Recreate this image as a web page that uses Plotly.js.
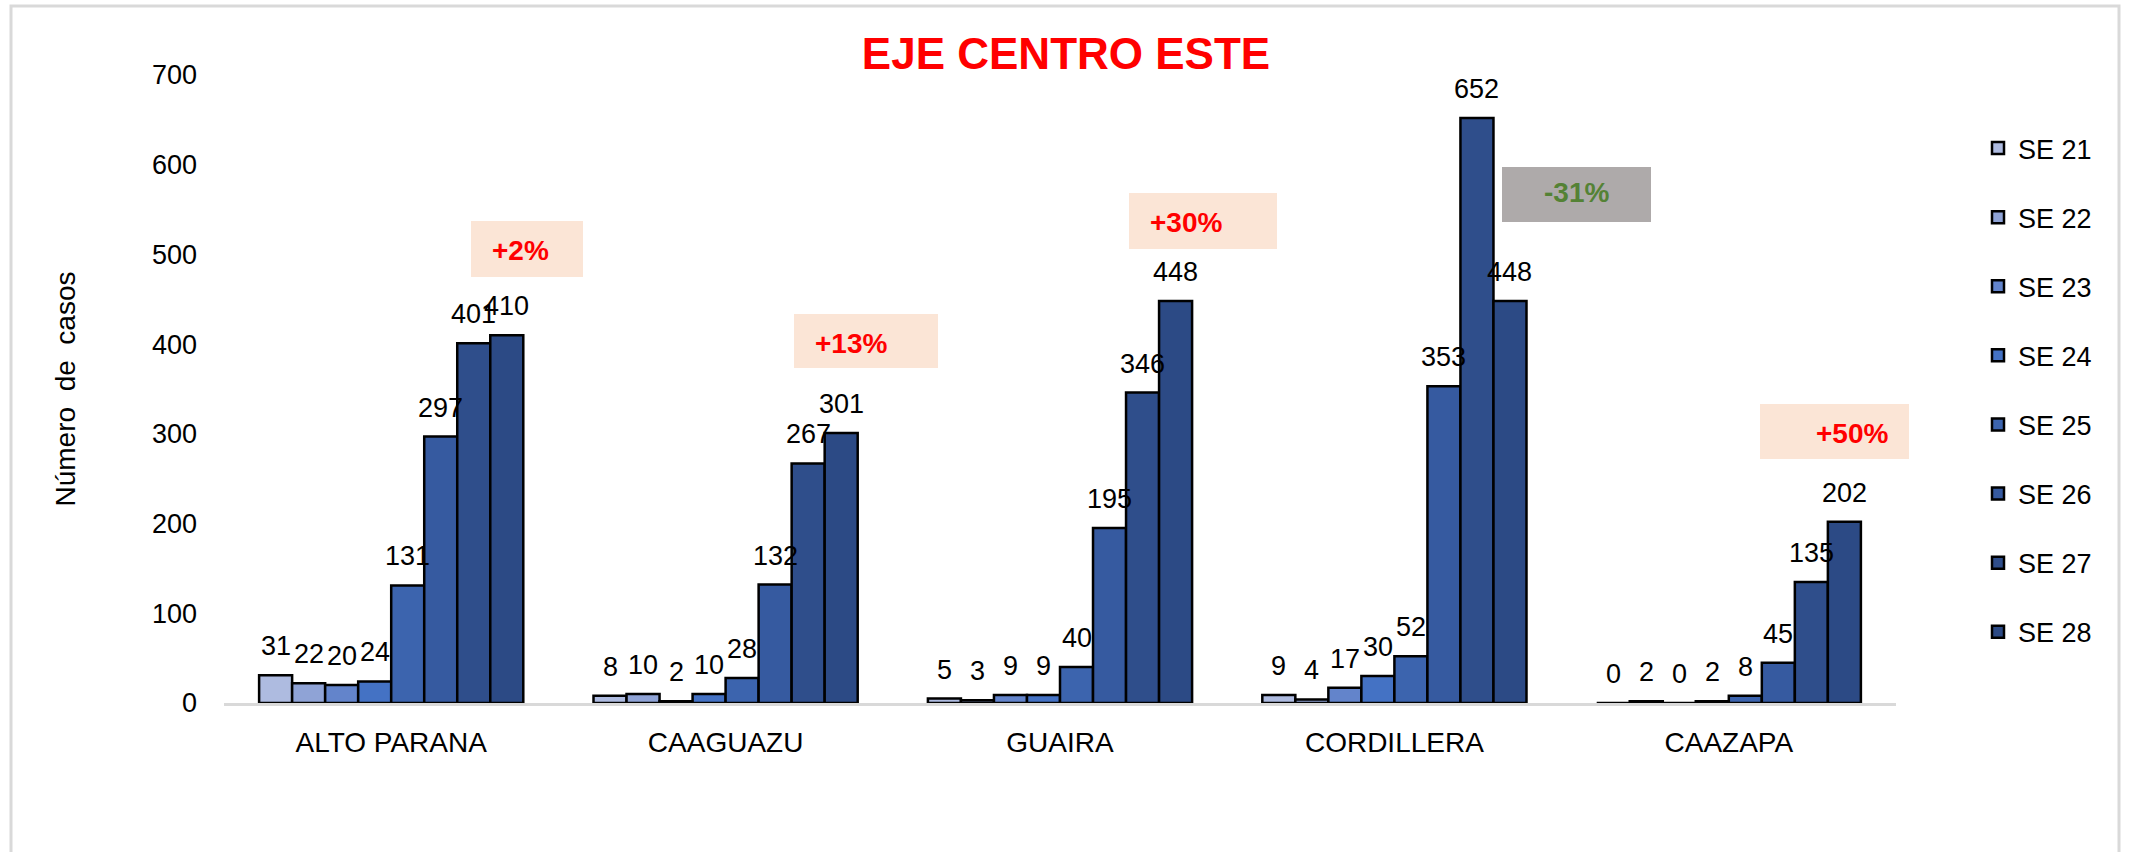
<!DOCTYPE html>
<html>
<head>
<meta charset="utf-8">
<script src="https://cdn.plot.ly/plotly-3.0.1.min.js"></script>
<style>
  html, body { margin: 0; padding: 0; background: #ffffff; overflow: hidden; }
  #chart { width: 2131px; height: 852px; }
</style>
</head>
<body>
<div id="chart"></div>
<script>
// ---- data ----
const categories = ['ALTO PARANA', 'CAAGUAZU', 'GUAIRA', 'CORDILLERA', 'CAAZAPA'];
const seriesNames = ['SE 21', 'SE 22', 'SE 23', 'SE 24', 'SE 25', 'SE 26', 'SE 27', 'SE 28'];
const se21 = [31, 8, 5, 9, 0];
const se22 = [22, 10, 3, 4, 2];
const se23 = [20, 2, 9, 17, 0];
const se24 = [24, 10, 9, 30, 2];
const se25 = [131, 28, 40, 52, 8];
const se26 = [297, 132, 195, 353, 45];
const se27 = [401, 267, 346, 652, 135];
const se28 = [410, 301, 448, 448, 202];
const changeLabels = ['+2%', '+13%', '+30%', '-31%', '+50%'];
const yTickValues = [0, 100, 200, 300, 400, 500, 600, 700];

// ---- styles ----
const seriesValues = [se21, se22, se23, se24, se25, se26, se27, se28];
const seriesColors = ['#aebbe0', '#8fa3d6', '#6384cb', '#4472c4', '#3c64ae', '#365aa0', '#2f4e8b', '#2c4a85'];
const FONT = 'Arial, "Liberation Sans", sans-serif';
const BARGAP = 0.21;

// plot area in pixels (for decorative layout placement only)
const L = 224, R = 1896, T = 75, B = 703, W = 2131, H = 852;
function px(X) { return (X - L) / (R - L); }
function py(Y) { return (B - Y) / (B - T); }

// callout boxes (layout decoration, pixel placement)
const calloutStyle = [
  { box: [471, 221, 583, 277], tx: 520, ty: 250, fill: '#fbe5d6', color: '#ff0000' },
  { box: [794, 314, 938, 368], tx: 851, ty: 343, fill: '#fbe5d6', color: '#ff0000' },
  { box: [1129, 193, 1277, 249], tx: 1186, ty: 222, fill: '#fbe5d6', color: '#ff0000' },
  { box: [1502, 167, 1651, 222], tx: 1576, ty: 193, fill: '#aeaaaa', color: '#548235' },
  { box: [1760, 404, 1909, 459], tx: 1852, ty: 433, fill: '#fbe5d6', color: '#ff0000' }
];

const traces = seriesNames.map((name, i) => ({
  type: 'bar',
  name: name,
  x: categories,
  y: seriesValues[i],
  legendgroup: 'g' + i,
  marker: { color: seriesColors[i], line: { color: '#000000', width: 2.5 } },
  hoverinfo: 'x+y+name'
}));

const annotations = [];
const nS = seriesNames.length;
const bw = (1 - BARGAP) / nS;
seriesValues.forEach((vals, i) => {
  vals.forEach((v, k) => {
    annotations.push({
      xref: 'x', yref: 'y',
      x: k - (1 - BARGAP) / 2 + (i + 0.5) * bw,
      y: v,
      text: String(v),
      showarrow: false,
      yanchor: 'middle',
      xanchor: 'center',
      yshift: 29,
      font: { family: FONT, size: 27, color: '#000000' }
    });
  });
});

const shapes = [];
calloutStyle.forEach((c, k) => {
  shapes.push({
    type: 'rect', xref: 'paper', yref: 'paper',
    x0: px(c.box[0]), x1: px(c.box[2]), y0: py(c.box[3]), y1: py(c.box[1]),
    fillcolor: c.fill, line: { width: 0 }, layer: 'below'
  });
  annotations.push({
    xref: 'paper', yref: 'paper',
    x: px(c.tx), y: py(c.ty),
    text: '<b>' + changeLabels[k] + '</b>',
    showarrow: false, xanchor: 'center', yanchor: 'middle',
    font: { family: FONT, size: 28, color: c.color }
  });
});

// outer chart frame
shapes.push({
  type: 'path', xref: 'paper', yref: 'paper',
  path: 'M' + px(11) + ',' + py(900) + ' L' + px(11) + ',' + py(6) + ' L' + px(2119) + ',' + py(6) + ' L' + px(2119) + ',' + py(900),
  line: { color: '#d9d9d9', width: 3 }, layer: 'below'
});

const layout = {
  width: W, height: H,
  margin: { l: L, r: W - R, t: T, b: H - B, pad: 0 },
  paper_bgcolor: '#ffffff',
  plot_bgcolor: '#ffffff',
  barmode: 'group',
  bargap: BARGAP,
  bargroupgap: 0,
  font: { family: FONT, size: 27, color: '#000000' },
  title: {
    text: '<b>EJE CENTRO ESTE</b>',
    font: { family: FONT, size: 44, color: '#ff0000' },
    x: 1066 / W, xanchor: 'center', xref: 'container',
    y: 1 - 54 / H, yanchor: 'middle', yref: 'container'
  },
  xaxis: {
    type: 'category',
    showgrid: false, zeroline: false,
    showline: true, linecolor: '#d9d9d9', linewidth: 3,
    ticks: '', ticklabelstandoff: 12,
    tickfont: { family: FONT, size: 28, color: '#000000' },
    fixedrange: true
  },
  yaxis: {
    range: [0, 700],
    tickvals: yTickValues,
    ticktext: yTickValues.map(String),
    showgrid: false, zeroline: false, showline: false,
    ticks: '', ticklabelstandoff: 26,
    tickfont: { family: FONT, size: 27, color: '#000000' },
    title: {
      text: 'Número\u00a0 de\u00a0 casos',
      font: { family: FONT, size: 28, color: '#000000' },
      standoff: 68
    },
    fixedrange: true
  },
  showlegend: true,
  legend: {
    xref: 'container', yref: 'container',
    x: 1978 / W, xanchor: 'left',
    y: 1 - 124 / H, yanchor: 'top',
    traceorder: 'grouped',
    tracegroupgap: 31,
    itemwidth: 30,
    maxheight: 1,
    bgcolor: 'rgba(0,0,0,0)',
    font: { family: FONT, size: 27, color: '#000000' }
  },
  annotations: annotations,
  shapes: shapes
};

Plotly.newPlot('chart', traces, layout, { displayModeBar: false, staticPlot: true });
</script>
</body>
</html>
